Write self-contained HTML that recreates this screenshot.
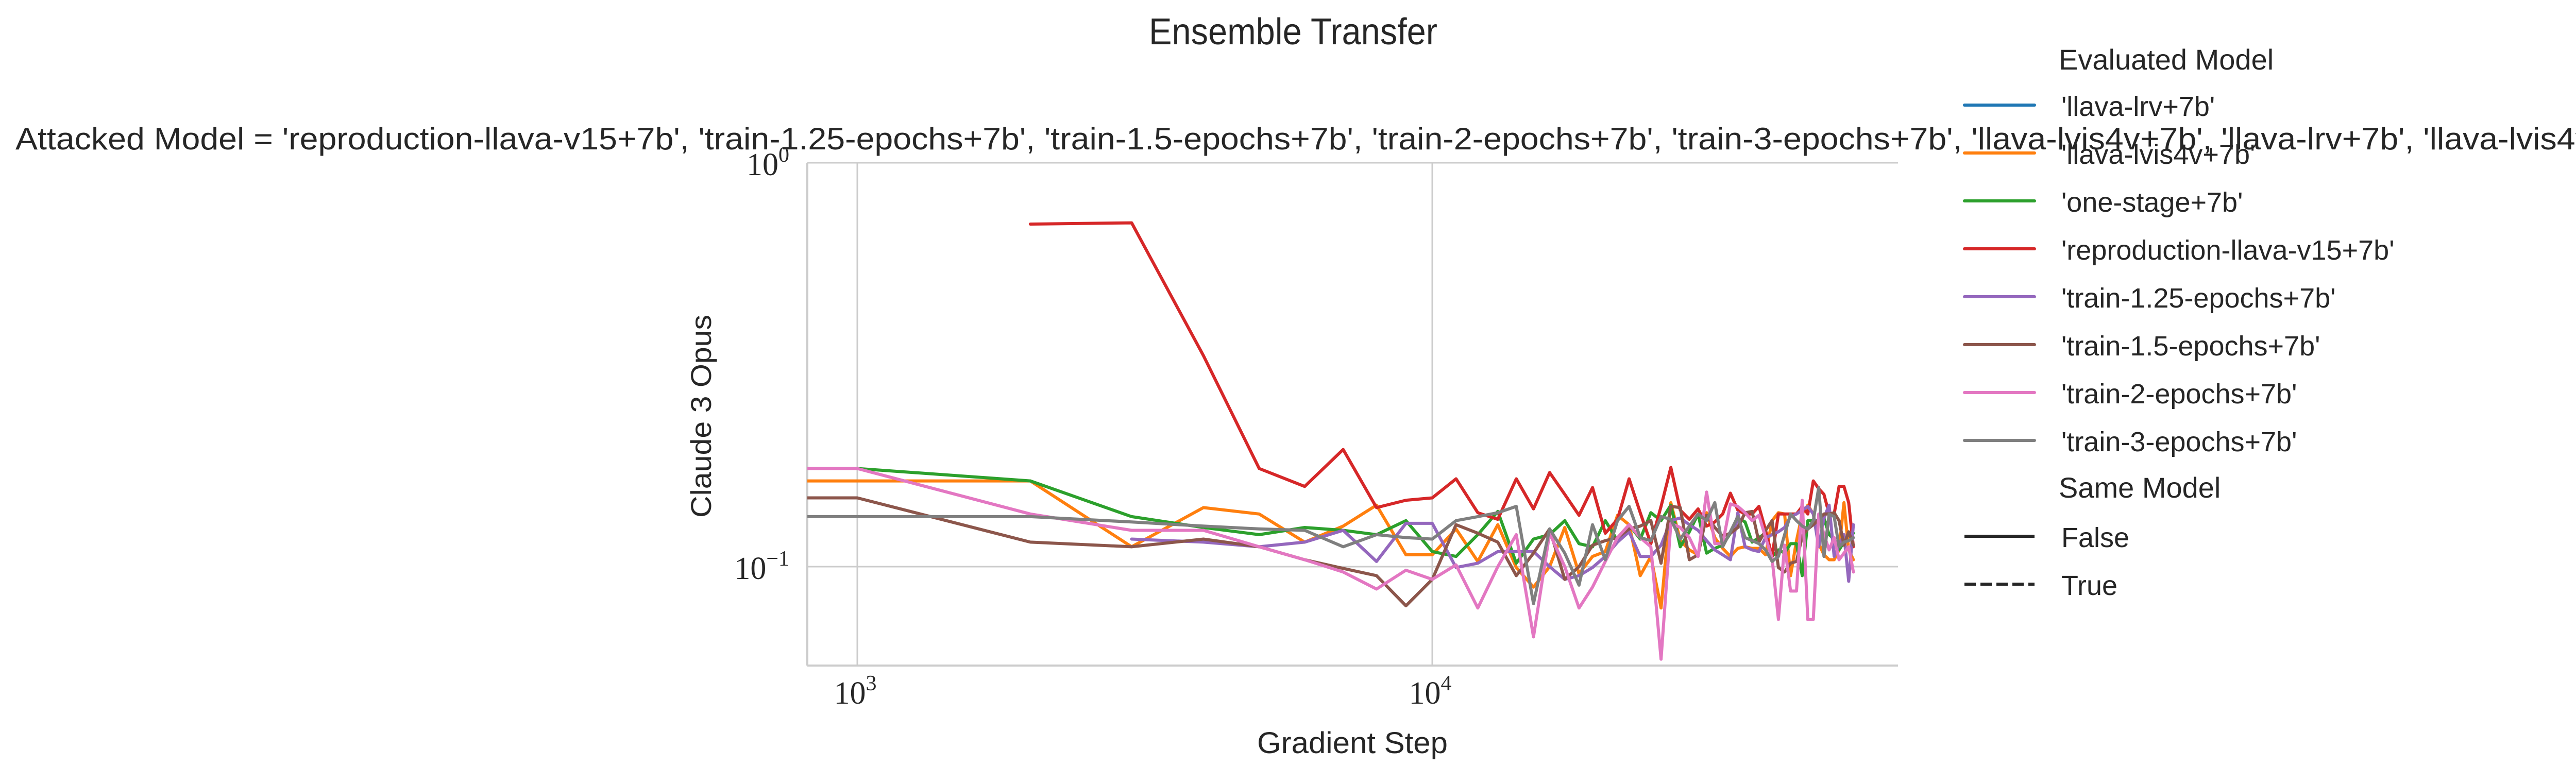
<!DOCTYPE html>
<html><head><meta charset="utf-8"><style>
html,body{margin:0;padding:0;background:#fff;overflow:hidden;}
svg{display:block;}
text{fill:#262626;}
</style></head><body>
<svg id="chart" width="5247" height="1487" viewBox="0 0 5247 1487" xmlns="http://www.w3.org/2000/svg">
<text x="2510" y="86" text-anchor="middle" font-family="Liberation Sans, sans-serif" font-size="72" textLength="560" lengthAdjust="spacingAndGlyphs">Ensemble Transfer</text>
<text x="30" y="290" font-family="Liberation Sans, sans-serif" font-size="60" textLength="5212" lengthAdjust="spacingAndGlyphs">Attacked Model = 'reproduction-llava-v15+7b', 'train-1.25-epochs+7b', 'train-1.5-epochs+7b', 'train-2-epochs+7b', 'train-3-epochs+7b', 'llava-lvis4v+7b', 'llava-lrv+7b', 'llava-lvis4v-lrv+7b'</text>
<g id="axes"></g>
<text transform="translate(1380,808) rotate(-90)" text-anchor="middle" font-family="Liberation Sans, sans-serif" font-size="56" textLength="394" lengthAdjust="spacingAndGlyphs">Claude 3 Opus</text>
<text x="2625" y="1462" text-anchor="middle" font-family="Liberation Sans, sans-serif" font-size="58" textLength="370" lengthAdjust="spacingAndGlyphs">Gradient Step</text>
<g id="legend"></g>
</svg>
<script>
const steps = [0,1000,2000,3000,4000,5000,6000,7000,8000,9000,10000,11000,12000,13000,14000,15000,16000,17000,18000,19000,20000,21000,22000,23000,24000,25000,26000,27000,28000,29000,30000,31000,32000,33000,34000,35000,36000,37000,38000,39000,40000,41000,42000,43000,44000,45000,46000,47000,48000,49000,50000,51000,52000,53000,54000];
const seriesNames = ["'llava-lrv+7b'","'llava-lvis4v+7b'","'one-stage+7b'","'reproduction-llava-v15+7b'","'train-1.25-epochs+7b'","'train-1.5-epochs+7b'","'train-2-epochs+7b'","'train-3-epochs+7b'"];
const seriesColors = ["#1f77b4","#ff7f0e","#2ca02c","#d62728","#9467bd","#8c564b","#e377c2","#7f7f7f"];
const llavaLrv = [];
const llavaLvis4v = [0.163,0.163,0.163,0.112,0.140,0.135,0.115,0.126,0.142,0.107,0.107,0.124,0.103,0.127,0.0995,0.089,0.100,0.125,0.096,0.106,0.109,0.134,0.127,0.095,0.106,0.079,0.144,0.116,0.110,0.107,0.136,0.118,0.111,0.106,0.111,0.112,0.111,0.111,0.107,0.130,0.136,0.135,0.095,0.116,0.135,0.142,0.135,0.114,0.107,0.104,0.104,0.110,0.144,0.110,0.104];
const oneStage = [0.175,0.175,0.163,0.133,0.125,0.120,0.125,0.123,0.120,0.130,0.109,0.106,0.120,0.137,0.102,0.117,0.120,0.130,0.114,0.112,0.130,0.116,0.127,0.117,0.136,0.130,0.142,0.112,0.122,0.135,0.108,0.111,0.113,0.121,0.132,0.129,0.115,0.118,0.121,0.106,0.110,0.108,0.114,0.114,0.095,0.130,0.130,0.130,0.132,0.120,0.117,0.110,0.115,0.121,0.121];
const reproduction = [null,null,0.705,0.71,0.333,0.175,0.158,0.195,0.140,0.146,0.148,0.165,0.136,0.131,0.165,0.139,0.171,0.151,0.134,0.157,0.121,0.131,0.165,0.136,0.114,0.141,0.176,0.138,0.131,0.139,0.126,0.129,0.135,0.152,0.138,0.135,0.135,0.141,0.123,0.106,0.135,0.135,0.135,0.135,0.141,0.135,0.163,0.156,0.151,0.135,0.135,0.158,0.158,0.144,0.112];
const train125 = [null,null,null,0.117,0.115,0.112,0.115,0.123,0.103,0.128,0.128,0.0995,0.102,0.109,0.109,0.109,0.100,0.093,0.095,0.0995,0.106,0.115,0.122,0.106,0.106,0.113,0.130,0.132,0.127,0.123,0.116,0.110,0.107,0.104,0.136,0.112,0.110,0.109,0.118,0.120,0.122,0.125,0.133,0.135,0.138,0.141,0.135,0.112,0.132,0.142,0.106,0.113,0.120,0.092,0.127];
const train15 = [0.148,0.148,0.115,0.112,0.117,0.112,0.104,0.099,0.095,0.080,0.093,0.127,0.121,0.115,0.095,0.108,0.124,0.093,0.100,0.113,0.116,0.118,0.124,0.126,0.130,0.102,0.141,0.140,0.104,0.107,0.134,0.125,0.119,0.121,0.125,0.136,0.137,0.115,0.123,0.130,0.0995,0.097,0.102,0.103,0.119,0.124,0.127,0.131,0.135,0.135,0.136,0.130,0.113,0.122,0.113];
const train2 = [0.175,0.175,0.135,0.123,0.123,0.112,0.104,0.097,0.088,0.098,0.093,0.101,0.079,0.100,0.120,0.067,0.121,0.100,0.079,0.089,0.103,0.118,0.127,0.118,0.112,0.059,0.128,0.125,0.118,0.106,0.153,0.114,0.114,0.143,0.141,0.136,0.130,0.134,0.118,0.105,0.074,0.113,0.087,0.087,0.146,0.0739,0.074,0.135,0.120,0.110,0.118,0.104,0.108,0.112,0.097];
const train3 = [0.133,0.133,0.133,0.129,0.126,0.124,0.123,0.112,0.120,0.118,0.117,0.130,0.133,0.136,0.141,0.081,0.124,0.108,0.090,0.127,0.104,0.130,0.141,0.118,0.116,0.133,0.131,0.117,0.126,0.135,0.130,0.144,0.112,0.122,0.133,0.118,0.116,0.114,0.110,0.103,0.106,0.120,0.135,0.130,0.126,0.124,0.130,0.157,0.106,0.135,0.133,0.112,0.115,0.116,0.118];
const xTicks = [1000,10000];
const xTickExp = ["3","4"];
const yTicks = [1,0.1];
const yTickExp = ["0","\u22121"];

const NS = "http://www.w3.org/2000/svg";
const L = 1567, R = 3684, T = 316, B = 1292;
const xDecade = 1116, x0 = 1664;
const yDecade = 784, y0 = 1100;
function xs(v){ return v <= 0 ? L - 200 : x0 + (Math.log10(v) - 3) * xDecade; }
function ys(v){ return y0 - (Math.log10(v) + 1) * yDecade; }
function mk(tag, attrs, parent){ const e = document.createElementNS(NS, tag); for (const k in attrs) e.setAttribute(k, attrs[k]); parent.appendChild(e); return e; }

const axes = document.getElementById('axes');
const defs = mk('defs', {}, axes);
const cp = mk('clipPath', {id:'clip'}, defs);
mk('rect', {x:L, y:T-10, width:R-L, height:B-T+10}, cp);

xTicks.forEach((t, i) => {
  const g = mk('line', {x1:xs(t), x2:xs(t), y1:T, y2:B, stroke:'#cccccc', 'stroke-width':3}, axes);
  
  
  const tx = mk('text', {x:xs(t)-4, y:1366, 'text-anchor':'middle', 'font-family':'Liberation Serif, serif', 'font-size':62}, axes);
  
  
  tx.textContent = '10';
  const sp = mk('tspan', {dy:-26, 'font-size':42}, tx);
  sp.textContent = xTickExp[i];
});
yTicks.forEach((t, i) => {
  const g = mk('line', {x1:L, x2:R, y1:ys(t), y2:ys(t), stroke:'#cccccc', 'stroke-width':3}, axes);
  
  
  const tx = mk('text', {x:1532, y:ys(t)+24, 'text-anchor':'end', 'font-family':'Liberation Serif, serif', 'font-size':62}, axes);
  
  
  tx.textContent = '10';
  const sp = mk('tspan', {dy:-26, 'font-size':42}, tx);
  sp.textContent = yTickExp[i];
});
const sl = mk('line', {x1:L, x2:L, y1:T, y2:B, stroke:'#cccccc', 'stroke-width':4}, axes);


const sb = mk('line', {x1:L, x2:R, y1:B, y2:B, stroke:'#cccccc', 'stroke-width':4}, axes);



const allSeries = [llavaLrv, llavaLvis4v, oneStage, reproduction, train125, train15, train2, train3];
const seriesKeys = ['llava-lrv','llava-lvis4v','one-stage','reproduction-llava-v15','train-1-25-epochs','train-1-5-epochs','train-2-epochs','train-3-epochs'];
const lineGroup = mk('g', {'clip-path':'url(#clip)'}, axes);
allSeries.forEach((vals, si) => {
  let d = '';
  let pen = false;
  vals.forEach((v, i) => {
    if (v == null) { pen = false; return; }
    d += (pen ? 'L' : 'M') + xs(steps[i]).toFixed(1) + ',' + ys(v).toFixed(1);
    pen = true;
  });
  if (!d) return;
  const p = mk('path', {d:d, fill:'none', stroke:seriesColors[si], 'stroke-width':6, 'stroke-linejoin':'round', 'stroke-linecap':'round'}, lineGroup);
  
  
});

const lg = document.getElementById('legend');
const lf = 'Liberation Sans, sans-serif';
const t1 = mk('text', {x:3996, y:135, 'font-family':lf, 'font-size':56}, lg);


t1.textContent = 'Evaluated Model';
seriesNames.forEach((n, i) => {
  const y = 204 + i * 93;
  const ln = mk('line', {x1:3813, x2:3949, y1:y, y2:y, stroke:seriesColors[i], 'stroke-width':6, 'stroke-linecap':'round'}, lg);
  
  
  const tx = mk('text', {x:4001, y:y+21, 'font-family':lf, 'font-size':54}, lg);
  
  
  tx.textContent = n;
});
const t2 = mk('text', {x:3996, y:966, 'font-family':lf, 'font-size':56}, lg);


t2.textContent = 'Same Model';
const styleLabels = ['False','True'];
styleLabels.forEach((n, i) => {
  const y = 1041 + i * 93;
  const ln = mk('line', {x1:3813, x2:3949, y1:y, y2:y, stroke:'#262626', 'stroke-width':6}, lg);
  if (i === 1) ln.setAttribute('stroke-dasharray', '22,9');
  
  
  const tx = mk('text', {x:4001, y:y+21, 'font-family':lf, 'font-size':54}, lg);
  
  
  tx.textContent = n;
});
</script>
</body></html>
